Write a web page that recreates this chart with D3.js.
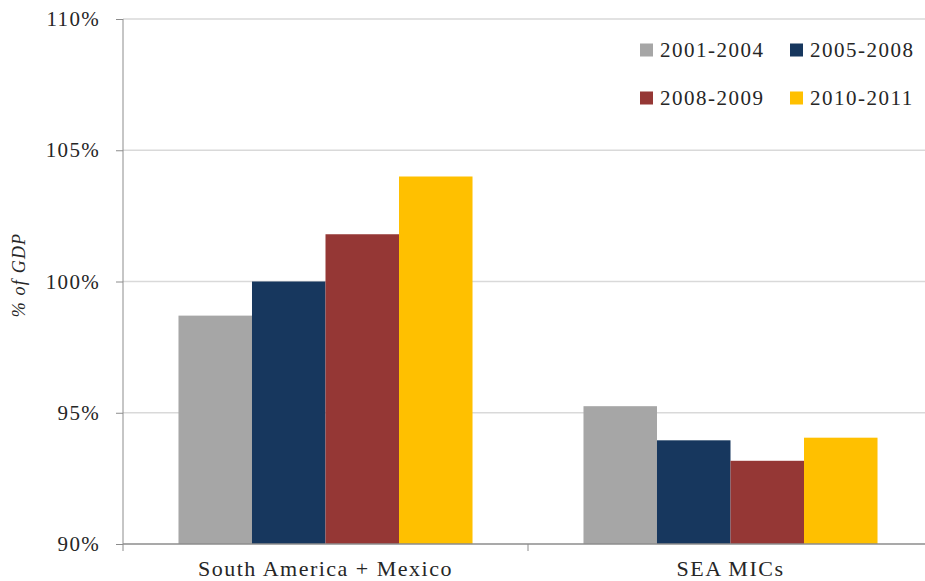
<!DOCTYPE html>
<html>
<head>
<meta charset="utf-8">
<script src="https://cdn.jsdelivr.net/npm/d3@7"></script>
<style>
  body { margin: 0; background: #fff; }
  svg text { font-family: 'Liberation Serif', 'Times New Roman', 'DejaVu Serif', serif !important; fill: #262626; }
</style>
</head>
<body>
<div id="chart"></div>
<script>
var categories = ["South America + Mexico", "SEA MICs"];
var periods = ["2001-2004", "2005-2008", "2008-2009", "2010-2011"];
var southAmerica = [98.7, 100.0, 101.8, 104.0];
var seaMics = [95.25, 93.95, 93.17, 94.05];
var yTicks = [90, 95, 100, 105, 110];

var colors = ["#a6a6a6", "#17375e", "#953735", "#ffc000"];

var width = 925,
    height = 581;

var margin = { left: 123, right: -8, top: 19, bottom: 37 };

var svg = d3.select("#chart")
    .append("svg")
    .attr("width", width)
    .attr("height", height);

var y = d3.scaleLinear()
    .domain([90, 110])
    .range([height - margin.bottom, margin.top]);

var x0 = d3.scaleBand()
    .domain(categories)
    .range([margin.left, width - margin.right])
    .padding(0);

var gap = x0.bandwidth() * 0.137;
var x1 = d3.scaleBand()
    .domain(periods)
    .range([gap, x0.bandwidth() - gap])
    .padding(0);

var color = d3.scaleOrdinal().domain(periods).range(colors);

// gridlines
svg.append("g")
    .selectAll("line")
    .data(yTicks.filter(function (t) { return t > 90; }))
    .enter()
    .append("line")
    .attr("x1", margin.left)
    .attr("x2", width)
    .attr("y1", function (d) { return y(d); })
    .attr("y2", function (d) { return y(d); })
    .attr("stroke", "#d9d9d9")
    .attr("stroke-width", 1.3);

// bars
var rows = [southAmerica, seaMics];
var groups = svg.append("g")
    .selectAll("g")
    .data(categories)
    .enter()
    .append("g")
    .attr("transform", function (d) { return "translate(" + x0(d) + ",0)"; });

groups.selectAll("rect")
    .data(function (d, i) {
        return periods.map(function (p, j) {
            return { period: p, value: rows[i][j] };
        });
    })
    .enter()
    .append("rect")
    .attr("x", function (d) { return x1(d.period); })
    .attr("width", x1.bandwidth())
    .attr("y", function (d) { return y(d.value); })
    .attr("height", function (d) { return y(90) - y(d.value); })
    .attr("fill", function (d) { return color(d.period); });

// y axis
var yAxis = d3.axisLeft(y)
    .tickValues(yTicks)
    .tickSize(7)
    .tickPadding(16)
    .tickFormat(function (d) { return d + "%"; });

var gy = svg.append("g")
    .attr("transform", "translate(" + margin.left + ",0)")
    .call(yAxis);
gy.attr("font-family", null);
gy.select(".domain").remove();
gy.append("line")
    .attr("x1", 0).attr("x2", 0)
    .attr("y1", y(110)).attr("y2", y(90) + 7)
    .attr("stroke", "#8c8c8c");
gy.selectAll(".tick line").attr("stroke", "#8c8c8c");
gy.selectAll(".tick text")
    .attr("font-size", 21)
    .attr("letter-spacing", 1.3);

// x axis
var gx = svg.append("g")
    .attr("transform", "translate(0," + y(90) + ")");
gx.append("line")
    .attr("x1", margin.left).attr("x2", width)
    .attr("stroke", "#8c8c8c")
    .attr("stroke-width", 1.3);
gx.append("line")
    .attr("x1", x0(categories[1])).attr("x2", x0(categories[1]))
    .attr("y1", 0).attr("y2", 7)
    .attr("stroke", "#8c8c8c");
gx.selectAll("text")
    .data(categories)
    .enter()
    .append("text")
    .attr("x", function (d) { return x0(d) + x0.bandwidth() / 2; })
    .attr("y", 32)
    .attr("text-anchor", "middle")
    .attr("font-size", 22)
    .attr("letter-spacing", 1.5)
    .text(function (d) { return d; });

// y title
svg.append("text")
    .attr("transform", "translate(25,275) rotate(-90)")
    .attr("text-anchor", "middle")
    .attr("font-size", 18)
    .attr("font-style", "italic")
    .attr("letter-spacing", 1.2)
    .text("% of GDP");

// legend
var legendPos = [[640, 50], [790, 50], [640, 98], [790, 98]];
var legend = svg.append("g")
    .selectAll("g")
    .data(periods)
    .enter()
    .append("g")
    .attr("transform", function (d, i) {
        return "translate(" + legendPos[i][0] + "," + legendPos[i][1] + ")";
    });
legend.append("rect")
    .attr("x", 0).attr("y", -6.5)
    .attr("width", 13).attr("height", 13)
    .attr("fill", function (d) { return color(d); });
legend.append("text")
    .attr("x", 20)
    .attr("y", 0)
    .attr("dy", "0.35em")
    .attr("font-size", 21)
    .attr("letter-spacing", 1.5)
    .text(function (d) { return d; });
</script>
</body>
</html>
